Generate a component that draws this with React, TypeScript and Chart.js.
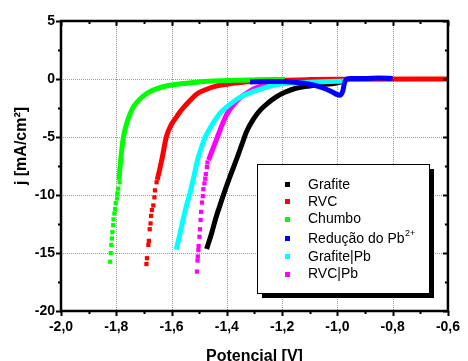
import React, { useEffect, useRef } from 'react';
import { Chart, registerables } from 'chart.js';
Chart.register(...registerables);

type P = [number, number];

// Axis ranges and tick labels
const xMin = -2.0, xMax = -0.6, xStep = 0.2;
const yMin = -20, yMax = 5, yStep = 5;
const xTitle = 'Potencial [V]';
const yTitle = 'j [mA/cm²]';

// Series names and colours (legend order)
const seriesNames = ['Grafite', 'RVC', 'Chumbo', 'Redução do Pb', 'Grafite|Pb', 'RVC|Pb'];
const seriesSup = ['', '', '', '2+', '', ''];
const seriesColors = ['#000000', '#ff0000', '#00ff00', '#0000ff', '#00ffff', '#ff00ff'];

// Grafite (black)
const grafiteCurve: P[] = [
  [-1.473, -14.65], [-1.455, -13.3], [-1.44, -12.0], [-1.425, -10.9], [-1.411, -9.9],
  [-1.39, -8.5], [-1.363, -6.8], [-1.345, -5.6], [-1.328, -4.5], [-1.305, -3.5],
  [-1.28, -2.7], [-1.25, -2.05], [-1.221, -1.55], [-1.19, -1.15], [-1.15, -0.8],
  [-1.10, -0.6], [-1.05, -0.47], [-1.008, -0.37], [-0.978, -0.2],
];
const grafiteDots: P[] = [];

// RVC (red)
const rvcDots: P[] = [
  [-1.691, -15.95], [-1.689, -15.45], [-1.684, -14.3], [-1.682, -13.95], [-1.679, -12.95],
  [-1.676, -12.45], [-1.674, -11.8], [-1.671, -11.3], [-1.666, -10.9], [-1.662, -10.2],
  [-1.66, -9.6], [-1.654, -8.9],
];
const rvcCurve: P[] = [
  [-1.652, -8.7], [-1.643, -7.8], [-1.633, -6.7], [-1.619, -5.0], [-1.60, -3.9],
  [-1.58, -3.2], [-1.565, -2.7], [-1.535, -1.9], [-1.506, -1.25], [-1.475, -0.9],
  [-1.446, -0.65], [-1.40, -0.45], [-1.35, -0.3], [-1.30, -0.2], [-1.20, -0.1],
  [-1.10, -0.05], [-1.0, -0.02], [-0.6, 0],
];

// Chumbo (green)
const chumboDots: P[] = [
  [-1.822, -15.75], [-1.82, -15.0], [-1.818, -14.3], [-1.816, -13.75], [-1.814, -13.2],
  [-1.811, -12.6], [-1.81, -12.1], [-1.807, -11.6], [-1.804, -11.2], [-1.802, -10.7],
  [-1.797, -10.3], [-1.796, -9.88], [-1.793, -9.45], [-1.788, -8.9],
];
const chumboCurve: P[] = [
  [-1.79, -8.7], [-1.786, -7.5], [-1.781, -6.3], [-1.774, -5.0], [-1.763, -3.9],
  [-1.75, -3.0], [-1.735, -2.3], [-1.715, -1.75], [-1.69, -1.25], [-1.66, -0.9],
  [-1.62, -0.6], [-1.58, -0.45], [-1.52, -0.3], [-1.45, -0.18], [-1.35, -0.1],
  [-1.25, -0.05], [-1.19, -0.03],
];

// Redução do Pb2+ (blue)
const reducaoCurve: P[] = [
  [-1.316, -0.25], [-1.25, -0.22], [-1.2, -0.22], [-1.15, -0.3], [-1.10, -0.45],
  [-1.06, -0.7], [-1.02, -1.1], [-1.0, -1.35], [-0.99, -1.4], [-0.98, -1.0],
  [-0.975, -0.4], [-0.965, 0.0], [-0.95, 0.05], [-0.9, 0.05], [-0.85, 0.08], [-0.8, 0.05],
];
const reducaoDots: P[] = [];

// Grafite|Pb (cyan)
const grafitePbCurve: P[] = [
  [-1.583, -14.7], [-1.571, -13.5], [-1.559, -12.2], [-1.547, -11.0], [-1.535, -10.0],
  [-1.52, -8.5], [-1.506, -7.0], [-1.492, -5.9], [-1.478, -5.0], [-1.455, -4.0],
  [-1.43, -3.1], [-1.40, -2.4], [-1.37, -1.85], [-1.338, -1.4], [-1.30, -1.05],
  [-1.269, -0.8], [-1.221, -0.5], [-1.17, -0.35], [-1.10, -0.28], [-1.03, -0.22], [-0.97, -0.18],
];
const grafitePbDots: P[] = [];

// RVC|Pb (magenta)
const rvcPbDots: P[] = [
  [-1.508, -16.6], [-1.506, -15.65], [-1.505, -15.3], [-1.503, -14.75], [-1.502, -14.4],
  [-1.499, -13.6], [-1.497, -12.95], [-1.495, -12.15], [-1.493, -11.45], [-1.49, -10.65],
  [-1.487, -10.1], [-1.485, -9.5], [-1.481, -9.0], [-1.478, -8.6], [-1.476, -8.2],
  [-1.472, -7.6], [-1.47, -7.2],
];
const rvcPbCurve: P[] = [
  [-1.466, -7.0], [-1.452, -6.1], [-1.434, -5.0], [-1.418, -4.0], [-1.399, -3.0],
  [-1.375, -2.2], [-1.351, -1.6], [-1.32, -1.08], [-1.292, -0.74], [-1.26, -0.5],
  [-1.233, -0.35], [-1.19, -0.2],
];

const curves = [grafiteCurve, rvcCurve, chumboCurve, reducaoCurve, grafitePbCurve, rvcPbCurve];
const dots = [grafiteDots, rvcDots, chumboDots, reducaoDots, grafitePbDots, rvcPbDots];
// drawing order: first drawn on top
const drawOrder = [3, 4, 5, 2, 1, 0];

const FONT = 'Arial, "Liberation Sans", sans-serif';

const fmtX = (v: number) => v.toFixed(1).replace('.', ',').replace('-0,0', '0,0');

const gridPlugin = {
  id: 'dotgrid',
  beforeDatasetsDraw(chart: any) {
    const ctx = chart.ctx as CanvasRenderingContext2D;
    const { left, right, top, bottom } = chart.chartArea;
    const xs = chart.scales.x, ys = chart.scales.y;
    ctx.save();
    ctx.fillStyle = '#9a9a9a';
    const nx = Math.round((xMax - xMin) / xStep);
    for (let i = 1; i < nx; i++) {
      const px = Math.round(xs.getPixelForValue(xMin + i * xStep));
      for (let y = Math.ceil(top) + 2; y < bottom - 1; y += 2) ctx.fillRect(px, y, 1, 1);
    }
    const ny = Math.round((yMax - yMin) / yStep);
    for (let i = 1; i < ny; i++) {
      const py = Math.round(ys.getPixelForValue(yMin + i * yStep));
      for (let x = Math.ceil(left) + 2; x < right - 1; x += 2) ctx.fillRect(x, py, 1, 1);
    }
    ctx.restore();
  },
};

const decorPlugin = {
  id: 'decor',
  afterDraw(chart: any) {
    const ctx = chart.ctx as CanvasRenderingContext2D;
    const { left, right, top, bottom } = chart.chartArea;
    const xs = chart.scales.x, ys = chart.scales.y;
    ctx.save();
    // frame
    ctx.strokeStyle = '#000';
    ctx.lineWidth = 2.5;
    ctx.strokeRect(left, top, right - left, bottom - top);
    // ticks
    ctx.lineWidth = 2;
    const nx = Math.round((xMax - xMin) / (xStep / 2));
    for (let i = 0; i <= nx; i++) {
      const v = xMin + i * xStep / 2;
      const px = Math.round(xs.getPixelForValue(v)) + 0.5;
      const major = i % 2 === 0;
      const L = major ? 5 : 3;
      ctx.beginPath();
      ctx.moveTo(px, bottom); ctx.lineTo(px, bottom + L);
      ctx.moveTo(px, top); ctx.lineTo(px, top + L);
      ctx.stroke();
    }
    const ny = Math.round((yMax - yMin) / (yStep / 2));
    for (let i = 0; i <= ny; i++) {
      const v = yMin + i * yStep / 2;
      const py = Math.round(ys.getPixelForValue(v)) + 0.5;
      const major = i % 2 === 0;
      const L = major ? 5 : 3;
      ctx.beginPath();
      ctx.moveTo(left, py); ctx.lineTo(left - L, py);
      ctx.moveTo(right, py); ctx.lineTo(right - L, py);
      ctx.stroke();
    }
    // legend box with shadow
    const bx = 257, by = 164, bw = 172, bh = 129;
    ctx.fillStyle = '#000';
    ctx.fillRect(bx + 5, by + 5, bw, bh);
    ctx.fillStyle = '#fff';
    ctx.fillRect(bx, by, bw, bh);
    ctx.strokeStyle = '#000';
    ctx.lineWidth = 1;
    ctx.strokeRect(bx + 0.5, by + 0.5, bw, bh);
    const rowsY = [184, 201, 218.5, 238, 256, 273.5];
    ctx.textBaseline = 'middle';
    ctx.textAlign = 'left';
    for (let i = 0; i < seriesNames.length; i++) {
      const y = rowsY[i];
      ctx.fillStyle = seriesColors[i];
      ctx.fillRect(285, Math.round(y) - 2, 5, 5);
      ctx.fillStyle = '#000';
      ctx.font = `14px ${FONT}`;
      ctx.fillText(seriesNames[i], 308, y + 1);
      if (seriesSup[i]) {
        const w = ctx.measureText(seriesNames[i]).width;
        ctx.font = `9px ${FONT}`;
        ctx.fillText(seriesSup[i], 308 + w + 0.5, y - 4);
      }
    }
    // axis titles
    ctx.fillStyle = '#000';
    ctx.font = `bold 16px ${FONT}`;
    ctx.textAlign = 'center';
    ctx.textBaseline = 'alphabetic';
    ctx.fillText(xTitle, (left + right) / 2, 361);
    ctx.save();
    ctx.translate(26, 146);
    ctx.rotate(-Math.PI / 2);
    ctx.fillText(yTitle, 0, 0);
    ctx.restore();
    ctx.restore();
  },
};

export default function App() {
  const ref = useRef<HTMLCanvasElement | null>(null);
  useEffect(() => {
    document.body.style.margin = '0';
    const datasets: any[] = [];
    for (const i of drawOrder) {
      datasets.push({
        label: seriesNames[i],
        data: curves[i].map(([x, y]) => ({ x, y })),
        showLine: true,
        borderColor: seriesColors[i],
        backgroundColor: seriesColors[i],
        borderWidth: 5,
        pointRadius: 0,
        cubicInterpolationMode: 'monotone',
        borderCapStyle: 'butt',
      });
      if (dots[i].length) {
        datasets.push({
          label: seriesNames[i] + ' pts',
          data: dots[i].map(([x, y]) => ({ x, y })),
          showLine: false,
          pointStyle: 'rect',
          pointRadius: 3,
          borderWidth: 0,
          backgroundColor: seriesColors[i],
          borderColor: seriesColors[i],
        });
      }
    }
    const chart = new Chart(ref.current as HTMLCanvasElement, {
      type: 'scatter',
      data: { datasets },
      options: {
        animation: false,
        responsive: true,
        maintainAspectRatio: false,
        layout: { padding: { top: 21, right: 14, left: 0, bottom: 0 } },
        plugins: { legend: { display: false }, tooltip: { enabled: false } },
        scales: {
          x: {
            type: 'linear',
            min: xMin, max: xMax,
            afterFit: (s: any) => { s.height = 50; },
            ticks: {
              stepSize: xStep,
              color: '#000',
              padding: 8,
              maxRotation: 0,
              font: { family: FONT, size: 14, weight: 'bold' },
              callback: (v: any) => fmtX(Number(v)),
            },
            grid: { display: false, drawTicks: false },
            border: { display: false },
          },
          y: {
            type: 'linear',
            min: yMin, max: yMax,
            afterFit: (s: any) => { s.width = 61; },
            ticks: {
              stepSize: yStep,
              color: '#000',
              padding: 6,
              font: { family: FONT, size: 14, weight: 'bold' },
              callback: (v: any) => String(Math.round(Number(v))),
            },
            grid: { display: false, drawTicks: false },
            border: { display: false },
          },
        },
      },
      plugins: [gridPlugin, decorPlugin],
    });
    return () => chart.destroy();
  }, []);
  return (
    <div style={{ width: 468, height: 361, position: 'relative' }}>
      <canvas ref={ref} />
    </div>
  );
}
